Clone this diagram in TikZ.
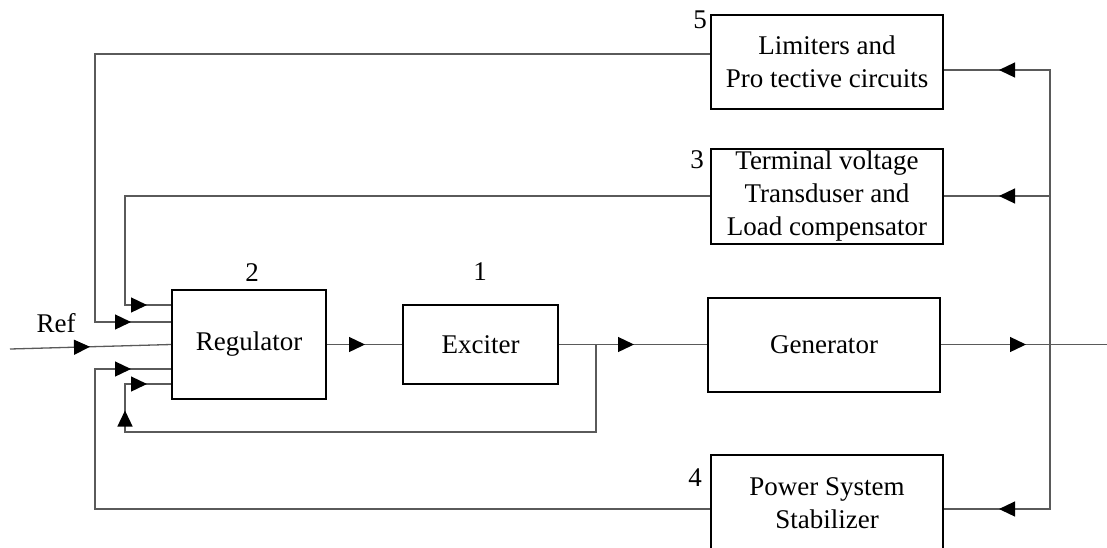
\documentclass[tikz,border=0pt]{standalone}
\usepackage{fontspec}
\setmainfont{Liberation Serif}
\usepackage{color}
\usepackage{tikz}
\definecolor{wiregray}{HTML}{5A5A5A}
\usetikzlibrary{arrows.meta,decorations.markings}
\tikzstyle{block}=[rectangle, draw=black, line width=1pt, inner sep=0pt, align=center, font=\fontsize{13.5}{16.5}\selectfont]
\tikzstyle{num}=[inner sep=0pt, font=\fontsize{13.5}{16.5}\selectfont]
\tikzstyle{wire}=[draw=wiregray, line width=0.65pt]
\tikzset{tip/.style={postaction={decorate, decoration={markings, mark=at position #1 with {\arrow[black]{Triangle[length=8pt,width=7.5pt]}}}}}}

\begin{document}
\begin{tikzpicture}[x=0.5pt, y=-0.5pt]
				\useasboundingbox (0,0) rectangle (1107,547);
				% blocks
				\node[block, minimum width=77pt, minimum height=54.5pt] (reg) at (249,344.5) {Regulator};
				\node[block, minimum width=77.5pt, minimum height=39.5pt] (exc) at (480.5,344.5) {Exciter};
				\node[block, minimum width=116pt, minimum height=47pt] (gen) at (824,344.5) {Generator};
				\node[block, minimum width=116pt, minimum height=47pt] (lim) at (827,62) {Limiters and\\Pro tective circuits};
				\node[block, minimum width=116pt, minimum height=47.5pt] (tvt) at (827,196) {Terminal voltage\\Transduser and\\Load compensator};
				\node[block, minimum width=116pt, minimum height=48pt] (pss) at (827,503) {Power System\\Stabilizer};
				% numbers
				\node[num] (n1) at (480,272) {1};
				\node[num] (n2) at (252,273) {2};
				\node[num] (n3) at (697,160) {3};
				\node[num] (n4) at (695,478) {4};
				\node[num] (n5) at (700,20) {5};
				\node[num] (ref) at (56,323) {Ref};
				% points
				\coordinate (r1) at ([yshift=19.75pt]reg.west);
				\coordinate (r2) at ([yshift=11.25pt]reg.west);
				\coordinate (r4) at ([yshift=-12.25pt]reg.west);
				\coordinate (r5) at ([yshift=-19.75pt]reg.west);
				\coordinate (k1) at (125,305);
				\coordinate (k2) at (95,322);
				\coordinate (k4) at (95,369);
				\coordinate (fbl) at (125,432);
				\coordinate (tap) at (596,344.5);
				\coordinate (refin) at (10,349);
				\coordinate (out) at (1107,344.5);
				\coordinate (bus) at (1050,344.5);
				\coordinate (bt) at (1050,196);
				\coordinate (lw) at ([yshift=4pt]lim.west);
				\coordinate (le) at ([yshift=-4pt]lim.east);
				\coordinate (pw) at ([yshift=-3pt]pss.west);
				\coordinate (pe) at ([yshift=-3pt]pss.east);
				% forward path
				\draw[wire, tip=40pt] (refin) -- (reg.west);
				\draw[wire, tip=19pt] (reg.east) -- (exc.west);
				\draw[wire, tip=37.5pt] (exc.east) -- (gen.west);
				\draw[wire, tip=42.5pt] (gen.east) -- (out);
				% feedback
				\draw[wire, tip=290pt, tip=-12pt] (tap) |- (fbl) |- (r5);
				\draw[wire, tip=-27.5pt] (bus) |- (le);
				\draw[wire, tip=-27.5pt] (bt) -- (tvt.east);
				\draw[wire, tip=-27.5pt] (bus) |- (pe);
				\draw[wire, tip=-20pt] (lw) -| (k2) -- (r2);
				\draw[wire, tip=-12pt] (tvt.west) -| (k1) -- (r1);
				\draw[wire, tip=-20pt] (pw) -| (k4) -- (r4);
			\end{tikzpicture}
\end{document}
